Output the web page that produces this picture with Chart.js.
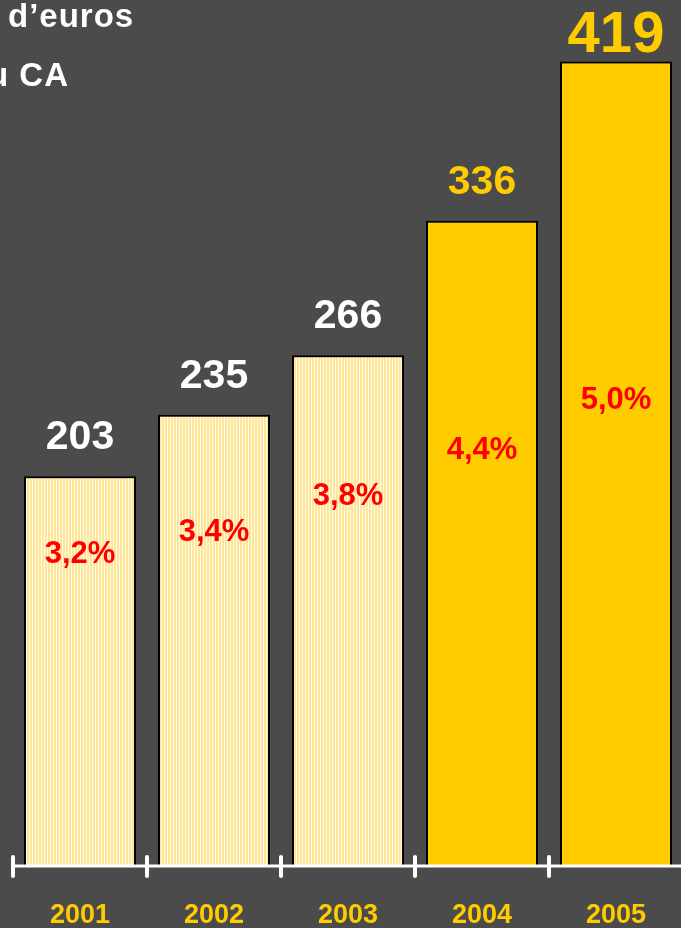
<!DOCTYPE html>
<html>
<head>
<meta charset="utf-8">
<script src="https://cdn.jsdelivr.net/npm/chart.js@4"></script>
<style>
  html, body { margin: 0; padding: 0; background: #4b4b4b; overflow: hidden; }
  #wrap { position: relative; width: 683px; height: 928px; }
</style>
</head>
<body>
<div id="wrap"><canvas id="chart"></canvas></div>
<script>
const years = ['2001', '2002', '2003', '2004', '2005'];
const amounts = [203, 235, 266, 336, 419];      // millions d'euros
const shareOfSales = [3.2, 3.4, 3.8, 4.4, 5.0]; // % du CA

const GOLD = '#ffcc00';
const FONT = 'Liberation Sans, Arial, sans-serif';

// pale striped fill for the first years
const stripe = document.createElement('canvas');
stripe.width = 3; stripe.height = 4;
const sctx = stripe.getContext('2d');
sctx.fillStyle = '#ffe699';
sctx.fillRect(0, 0, 2, 4);
sctx.fillStyle = '#fffbea';
sctx.fillRect(2, 0, 1, 4);

const ctx = document.getElementById('chart').getContext('2d');
const striped = ctx.createPattern(stripe, 'repeat');

const fmtPct = v => v.toFixed(1).replace('.', ',') + '%';

const overlay = {
  id: 'overlay',
  afterDatasetsDraw(chart, args, opts) {
    const c = chart.ctx;
    const x = chart.scales.x, y = chart.scales.y;
    const area = chart.chartArea;
    const meta = chart.getDatasetMeta(0);
    c.save();

    // axis line and ticks
    c.strokeStyle = '#ffffff';
    c.lineWidth = 3;
    c.beginPath();
    c.moveTo(area.left, area.bottom);
    c.lineTo(chart.width, area.bottom);
    c.stroke();
    const step = x.getPixelForValue(1) - x.getPixelForValue(0);
    c.lineWidth = 4;
    c.lineCap = 'round';
    for (let i = 0; i <= years.length; i++) {
      const tx = x.getPixelForValue(0) - step / 2 + i * step;
      c.beginPath();
      c.moveTo(tx, area.bottom - 9);
      c.lineTo(tx, area.bottom + 10);
      c.stroke();
    }

    // year labels
    c.textAlign = 'center';
    c.textBaseline = 'alphabetic';
    c.fillStyle = GOLD;
    c.font = 'bold 27px ' + FONT;
    years.forEach((yr, i) => c.fillText(yr, x.getPixelForValue(i), area.bottom + 57));

    // values above the bars, shares inside
    meta.data.forEach((bar, i) => {
      const last = i === amounts.length - 1;
      c.fillStyle = i < 3 ? '#ffffff' : GOLD;
      c.font = 'bold ' + (last ? 58 : 41) + 'px ' + FONT;
      c.fillText(String(amounts[i]), bar.x, bar.y - (last ? 9 : 27));

      c.fillStyle = '#ff0000';
      c.font = 'bold 31px ' + FONT;
      c.fillText(fmtPct(shareOfSales[i]), bar.x, y.getPixelForValue(opts.pctAnchor[i]));
    });

    // cropped captions, top left
    c.fillStyle = '#ffffff';
    c.font = 'bold 33px ' + FONT;
    c.letterSpacing = '1px';
    c.textAlign = 'left';
    c.fillText('d\u2019euros', 8, 27);
    c.textAlign = 'right';
    c.fillText('En % du CA', 69, 86);
    c.restore();
  }
};

new Chart(ctx, {
  type: 'bar',
  data: {
    labels: years,
    datasets: [{
      data: amounts,
      backgroundColor: amounts.map((v, i) => i < 3 ? striped : GOLD),
      borderColor: '#000000',
      borderWidth: 2,
      barPercentage: 0.836,
      categoryPercentage: 1
    }]
  },
  options: {
    responsive: true,
    maintainAspectRatio: false,
    animation: false,
    layout: { padding: { left: 13, right: 0, top: 0, bottom: 62 } },
    plugins: {
      legend: { display: false },
      tooltip: { enabled: false },
      overlay: { pctAnchor: [158, 169, 188, 212, 238] }
    },
    scales: {
      x: { display: false },
      y: { display: false, min: 0, max: 451 }
    }
  },
  plugins: [overlay]
});
</script>
</body>
</html>
